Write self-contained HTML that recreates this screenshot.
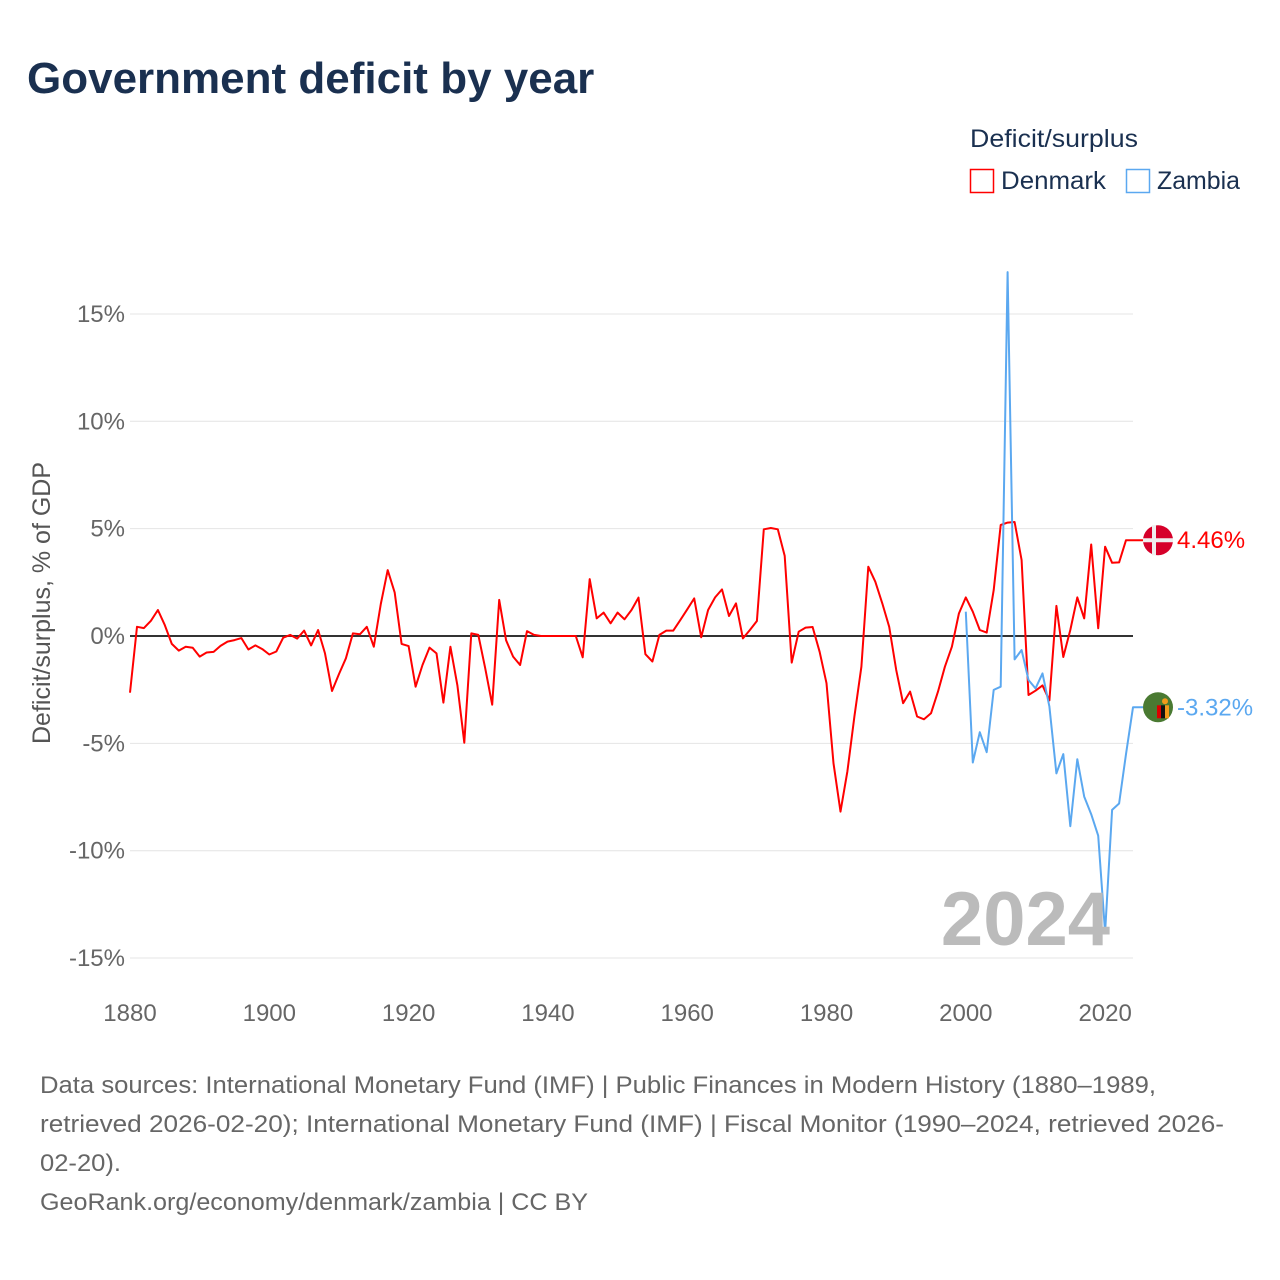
<!DOCTYPE html>
<html><head><meta charset="utf-8">
<style>
body{margin:0;background:#fff;font-family:"Liberation Sans",sans-serif;}
#wrap{position:relative;width:1280px;height:1280px;overflow:hidden;}
</style></head>
<body><div id="wrap">
<svg id="chart" width="1280" height="1280" xmlns="http://www.w3.org/2000/svg">
<text x="27" y="93" font-size="44" font-weight="bold" fill="#1a3050">Government deficit by year</text>
<text x="970" y="147" font-size="25" fill="#1a3050" textLength="168" lengthAdjust="spacingAndGlyphs">Deficit/surplus</text>
<g><rect x="970.5" y="169.5" width="23" height="23" fill="#fff" stroke="#f00" stroke-width="1.5"/><text x="1001" y="189" font-size="25" fill="#1a3050" textLength="105" lengthAdjust="spacingAndGlyphs">Denmark</text></g>
<g><rect x="1126.5" y="169.5" width="23" height="23" fill="#fff" stroke="#5ba8f0" stroke-width="1.5"/><text x="1157" y="189" font-size="25" fill="#1a3050" textLength="83" lengthAdjust="spacingAndGlyphs">Zambia</text></g>
<text transform="translate(50,603) rotate(-90)" text-anchor="middle" font-size="25" fill="#555">Deficit/surplus, % of GDP</text>
<g id="grid"></g><g id="series"></g>
<text x="1110" y="945" text-anchor="end" font-size="76" font-weight="bold" fill="#bbb">2024</text>
<g id="ends"></g>
<text x="40" y="1093" font-size="24" fill="#666" textLength="1116" lengthAdjust="spacingAndGlyphs">Data sources: International Monetary Fund (IMF) | Public Finances in Modern History (1880–1989,</text>
<text x="40" y="1132" font-size="24" fill="#666" textLength="1184" lengthAdjust="spacingAndGlyphs">retrieved 2026-02-20); International Monetary Fund (IMF) | Fiscal Monitor (1990–2024, retrieved 2026-</text>
<text x="40" y="1171" font-size="24" fill="#666" textLength="81" lengthAdjust="spacingAndGlyphs">02-20).</text>
<text x="40" y="1210" font-size="24" fill="#666" textLength="548" lengthAdjust="spacingAndGlyphs">GeoRank.org/economy/denmark/zambia | CC BY</text>
</svg></div>
<script>
const yTicks=[15,10,5,0,-5,-10,-15];
const xTicks=[1880,1900,1920,1940,1960,1980,2000,2020];
const denmarkStart=1880;
const denmarkValues=[-2.64,0.43,0.37,0.71,1.21,0.51,-0.37,-0.68,-0.5,-0.55,-0.96,-0.77,-0.74,-0.46,-0.26,-0.19,-0.1,-0.63,-0.44,-0.61,-0.86,-0.72,-0.08,0.05,-0.12,0.25,-0.44,0.28,-0.81,-2.56,-1.77,-1.04,0.12,0.08,0.43,-0.5,1.49,3.07,2.02,-0.37,-0.47,-2.36,-1.35,-0.54,-0.81,-3.1,-0.5,-2.3,-4.97,0.12,0.05,-1.5,-3.2,1.68,-0.2,-0.96,-1.35,0.23,0.05,0,0,0,0,0,0,-0.99,2.65,0.82,1.09,0.59,1.09,0.78,1.21,1.79,-0.85,-1.19,0.05,0.25,0.25,0.74,1.24,1.75,-0.06,1.21,1.8,2.17,0.93,1.52,-0.11,0.28,0.7,4.97,5.03,4.97,3.73,-1.24,0.2,0.39,0.42,-0.73,-2.2,-5.93,-8.18,-6.3,-3.75,-1.43,3.23,2.53,1.52,0.43,-1.58,-3.13,-2.59,-3.75,-3.88,-3.6,-2.59,-1.43,-0.5,1.05,1.8,1.13,0.28,0.16,2.14,5.17,5.28,5.31,3.54,-2.75,-2.55,-2.3,-3.0,1.4,-0.98,0.28,1.8,0.82,4.26,0.36,4.16,3.41,3.43,4.46];
const zambiaStart=2000;
const zambiaValues=[1.13,-5.89,-4.48,-5.41,-2.51,-2.36,16.95,-1.09,-0.65,-2.05,-2.44,-1.74,-3.29,-6.4,-5.5,-8.86,-5.74,-7.48,-8.3,-9.3,-13.8,-8.1,-7.8,-5.5,-3.32];
const NS='http://www.w3.org/2000/svg';
const X=y=>130+(y-1880)*(1003/144);
const Y=v=>636-v*21.47;
function mk(t,a,p){const e=document.createElementNS(NS,t);for(const k in a)e.setAttribute(k,a[k]);p.appendChild(e);return e;}
const grid=document.getElementById('grid');
yTicks.forEach(t=>{
  const l=mk('line',{x1:130,x2:1133,y1:Y(t),y2:Y(t),stroke:t===0?'#333':'#e4e4e4','stroke-width':t===0?2:1},grid);
  
  
  const tx=mk('text',{x:125,y:Y(t)+8,'text-anchor':'end','font-size':24,fill:'#666'},grid);
  tx.textContent=t+'%';
  
  
});
xTicks.forEach(t=>{
  const tx=mk('text',{x:X(t),y:1021,'text-anchor':'middle','font-size':24,fill:'#666'},grid);
  tx.textContent=t;
  
  
});
const ser=document.getElementById('series');
function line(start,vals,col,name){
  let d=vals.map((v,i)=>(i?'L':'M')+X(start+i).toFixed(1)+','+Y(v).toFixed(1)).join('');
  d+='L1143,'+Y(vals[vals.length-1]).toFixed(1);
  const p=mk('path',{d:d,fill:'none',stroke:col,'stroke-width':2,'stroke-linejoin':'round'},ser);
  
  
}
line(denmarkStart,denmarkValues,'#f00','denmark-line');
line(zambiaStart,zambiaValues,'#5ba8f0','zambia-line');
const ends=document.getElementById('ends');
const dv=denmarkValues[denmarkValues.length-1], zv=zambiaValues[zambiaValues.length-1];
let g=mk('g',{},ends);


mk('circle',{cx:1158,cy:Y(dv),r:15,fill:'#d6002a'},g);
mk('rect',{x:1143,y:Y(dv)-2,width:30,height:4,fill:'#eee'},g);
mk('rect',{x:1152,y:Y(dv)-15,width:4,height:30,fill:'#eee'},g);
let t=mk('text',{x:1177,y:Y(dv)+8,'font-size':24,fill:'#f00'},g);t.textContent=dv.toFixed(2)+'%';
g=mk('g',{},ends);


mk('circle',{cx:1158,cy:Y(zv),r:15,fill:'#4a7a32'},g);
mk('rect',{x:1157,y:Y(zv)-2,width:4,height:13,fill:'#d00'},g);
mk('rect',{x:1161,y:Y(zv)-2,width:4,height:13,fill:'#111'},g);
mk('rect',{x:1165,y:Y(zv)-2,width:4,height:13,fill:'#f39a1a'},g);
mk('circle',{cx:1165,cy:Y(zv)-6,r:3,fill:'#f39a1a'},g);
t=mk('text',{x:1177,y:Y(zv)+8,'font-size':24,fill:'#5ba8f0'},g);t.textContent=zv.toFixed(2)+'%';
</script>
</body></html>
